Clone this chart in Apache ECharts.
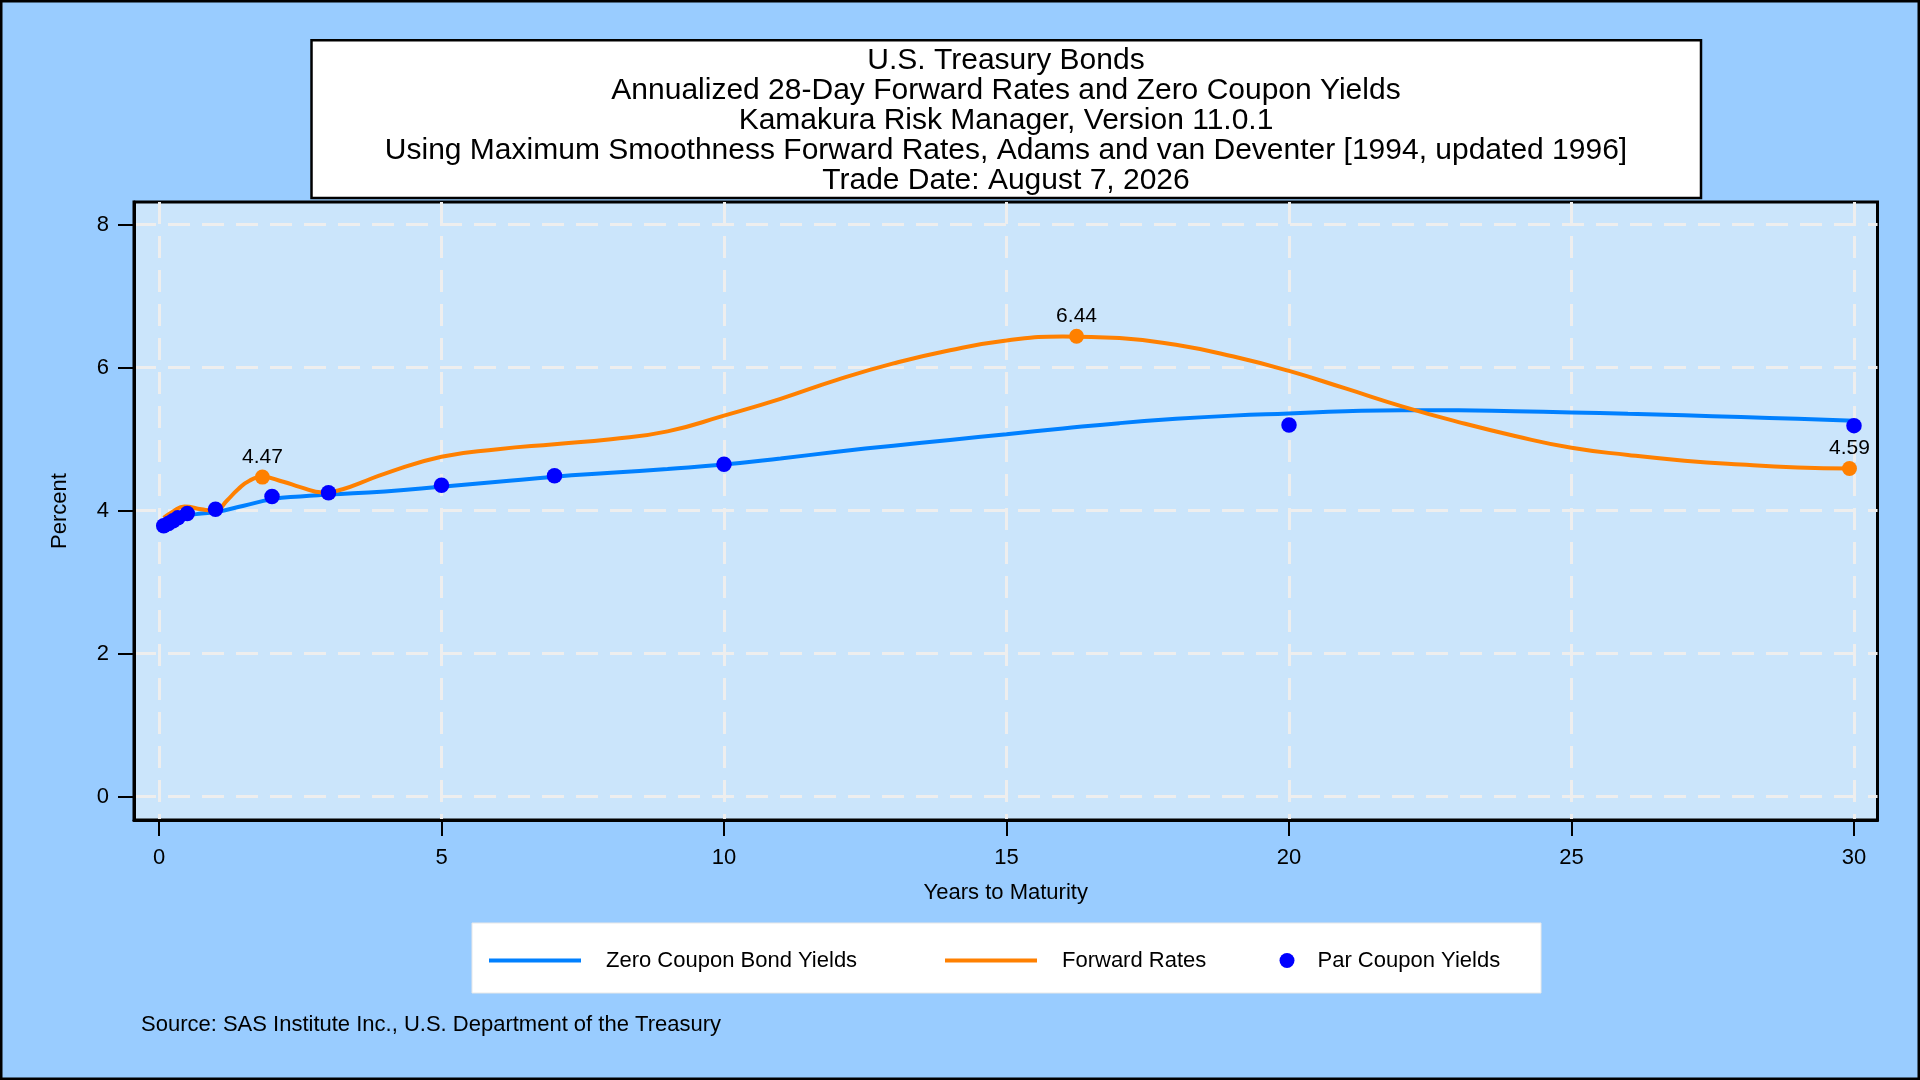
<!DOCTYPE html>
<html lang="en">
  <head>
    <meta charset="utf-8" />
    <title>U.S. Treasury Bonds - Forward Rates and Zero Coupon Yields</title>
    <style type="text/css">
    html, body { margin: 0; padding: 0; background: #99CCFF; }
    #chart { width: 1920px; height: 1080px; }
    </style>
    <script src="https://cdn.jsdelivr.net/npm/echarts@6/dist/echarts.min.js"></script>
  </head>
  <body>
    <div id="chart"></div>
    <script type="text/javascript">
    // zero coupon bond yields
    var zeroMaturity = [0.083, 0.25, 0.5, 0.75, 1, 1.5, 2, 2.5, 3, 4, 5, 6, 7, 8, 9, 10, 11, 12, 13, 14, 15, 16, 17, 18, 19, 20, 21, 22, 23, 24, 25, 26, 27, 28, 29, 30];
    var zeroYield = [3.79, 3.86, 3.93, 3.96, 3.98, 4.07, 4.16, 4.20, 4.225, 4.27, 4.335, 4.405, 4.475, 4.53, 4.585, 4.645, 4.73, 4.825, 4.91, 4.99, 5.07, 5.15, 5.225, 5.285, 5.33, 5.36, 5.39, 5.405, 5.405, 5.39, 5.375, 5.355, 5.335, 5.31, 5.285, 5.26];

    // annualized 28-day forward rates
    var fwdMaturity = [0.083, 0.25, 0.45, 0.75, 1.0, 1.2, 1.4, 1.6, 1.83, 2.2, 2.5, 2.9, 3.25, 3.6, 4, 5, 6, 7, 8, 9, 10, 11, 12, 13, 14, 15, 16, 17, 18, 19, 20, 21, 22, 23, 24, 25, 26, 27, 28, 29, 29.92];
    var fwdRate = [3.90, 3.99, 4.06, 4.02, 4.00, 4.14, 4.30, 4.42, 4.47, 4.405, 4.33, 4.255, 4.30, 4.40, 4.52, 4.755, 4.86, 4.93, 5.00, 5.11, 5.33, 5.565, 5.83, 6.06, 6.245, 6.38, 6.438, 6.415, 6.32, 6.16, 5.955, 5.71, 5.46, 5.24, 5.045, 4.88, 4.78, 4.70, 4.645, 4.605, 4.59];

    // labelled forward rate points
    var fwdMarkMaturity = [1.83, 16.24, 29.92];
    var fwdMarkRate = [4.47, 6.44, 4.59];

    // par coupon yields
    var parMaturity = [1 / 12, 2 / 12, 3 / 12, 4 / 12, 0.5, 1, 2, 3, 5, 7, 10, 20, 30];
    var parYield = [3.79, 3.82, 3.86, 3.90, 3.96, 4.02, 4.20, 4.25, 4.355, 4.49, 4.65, 5.20, 5.19];

    var xTicks = [0, 5, 10, 15, 20, 25, 30];
    var yTicks = [0, 2, 4, 6, 8];

    var titleLines = [
      'U.S. Treasury Bonds',
      'Annualized 28-Day Forward Rates and Zero Coupon Yields',
      'Kamakura Risk Manager, Version 11.0.1',
      'Using Maximum Smoothness Forward Rates, Adams and van Deventer [1994, updated 1996]',
      'Trade Date: August 7, 2026'
    ];
    var sourceText = 'Source: SAS Institute Inc., U.S. Department of the Treasury';

    var zip = (xs, ys) => xs.map((x, i) => [x, ys[i]]);
    var FONT = '"Liberation Sans", Arial, sans-serif';

    var chart = echarts.init(document.getElementById('chart'), null, {renderer: 'canvas'});

    var legendText = {fontFamily: FONT, fontSize: 22, color: '#000', padding: [0, 0, 0, 20]};
    var gridLine = {show: true, lineStyle: {color: '#EEEEEE', width: 3, type: [22, 12]}};

    var option = {
      backgroundColor: '#99CCFF',
      animation: false,
      textStyle: {fontFamily: FONT},
      title: [
        {
          text: titleLines.join('\n'),
          left: 1006,
          top: 46,
          padding: 0,
          textAlign: 'center',
          textStyle: {fontFamily: FONT, fontSize: 30, lineHeight: 30, fontWeight: 'normal', color: '#000'}
        },
        {
          text: sourceText,
          left: 141,
          top: 1014,
          padding: 0,
          textStyle: {fontFamily: FONT, fontSize: 22, fontWeight: 'normal', color: '#000'}
        }
      ],
      graphic: [
        // outer frame
        {type: 'rect', z: 1, silent: true, shape: {x: 1.25, y: 1.25, width: 1917.5, height: 1077.5},
          style: {fill: 'none', stroke: '#000', lineWidth: 2.5}},
        // title box
        {type: 'rect', z: 1, silent: true, shape: {x: 311.5, y: 40.3, width: 1389.5, height: 157.7},
          style: {fill: '#fff', stroke: '#000', lineWidth: 2.5}},
        // legend box
        {type: 'rect', z: 1, silent: true, shape: {x: 472, y: 923, width: 1069, height: 70},
          style: {fill: '#fff', stroke: '#e8e8e8', lineWidth: 1}}
      ],
      legend: [
        {data: ['Zero Coupon Bond Yields'], left: 489, top: 949.5, padding: 0, icon: 'rect', itemWidth: 92, itemHeight: 4,
          selectedMode: false, textStyle: legendText},
        {data: ['Forward Rates'], left: 945, top: 949.5, padding: 0, icon: 'rect', itemWidth: 92, itemHeight: 4,
          selectedMode: false, textStyle: legendText},
        {data: ['Par Coupon Yields'], left: 1279.5, top: 949.5, padding: 0, icon: 'circle', itemWidth: 15, itemHeight: 15,
          selectedMode: false, textStyle: Object.assign({}, legendText, {padding: [0, 0, 0, 18]})}
      ],
      grid: {
        left: 134,
        top: 202,
        width: 1743.5,
        height: 618,
        show: true,
        backgroundColor: '#CBE5FB',
        borderColor: '#000',
        borderWidth: 3,
        outerBoundsMode: 'none'
      },
      xAxis: {
        type: 'value',
        min: -0.4425,
        max: 30.416,
        name: 'Years to Maturity',
        nameLocation: 'middle',
        nameGap: 62,
        nameTextStyle: {fontFamily: FONT, fontSize: 22, color: '#000'},
        axisLine: {show: true, onZero: false, lineStyle: {color: '#000', width: 3}},
        axisTick: {show: true, customValues: xTicks, length: 16, lineStyle: {color: '#000', width: 2}},
        axisLabel: {customValues: xTicks, margin: 27, fontFamily: FONT, fontSize: 22, color: '#000'},
        splitLine: gridLine
      },
      yAxis: {
        type: 'value',
        min: -0.326,
        max: 8.318,
        name: 'Percent',
        nameLocation: 'middle',
        nameGap: 63,
        nameTextStyle: {fontFamily: FONT, fontSize: 22, color: '#000'},
        axisLine: {show: true, onZero: false, lineStyle: {color: '#000', width: 3}},
        axisTick: {show: true, customValues: yTicks, length: 16, lineStyle: {color: '#000', width: 2}},
        axisLabel: {customValues: yTicks, margin: 25, fontFamily: FONT, fontSize: 22, color: '#000'},
        splitLine: gridLine
      },
      series: [
        {
          name: 'Zero Coupon Bond Yields',
          type: 'line',
          data: zip(zeroMaturity, zeroYield),
          smooth: 0.5,
          symbol: 'none',
          color: '#0080FF',
          lineStyle: {color: '#0080FF', width: 4},
          z: 3
        },
        {
          name: 'Forward Rates',
          type: 'line',
          data: zip(fwdMaturity, fwdRate),
          smooth: 0.5,
          symbol: 'none',
          color: '#FF8000',
          lineStyle: {color: '#FF8000', width: 4},
          z: 3
        },
        {
          name: 'Forward Rate Marks',
          type: 'scatter',
          data: zip(fwdMarkMaturity, fwdMarkRate),
          symbol: 'circle',
          symbolSize: 15,
          itemStyle: {color: '#FF8000', opacity: 1},
          label: {
            show: true,
            position: 'top',
            distance: 2,
            fontFamily: FONT,
            fontSize: 21,
            color: '#000',
            formatter: p => p.value[1].toFixed(2)
          },
          z: 4
        },
        {
          name: 'Par Coupon Yields',
          type: 'scatter',
          data: zip(parMaturity, parYield),
          symbol: 'circle',
          symbolSize: 15.5,
          itemStyle: {color: '#0000FF', opacity: 1},
          z: 5
        }
      ]
    };
    chart.setOption(option);
    </script>
  </body>
</html>
